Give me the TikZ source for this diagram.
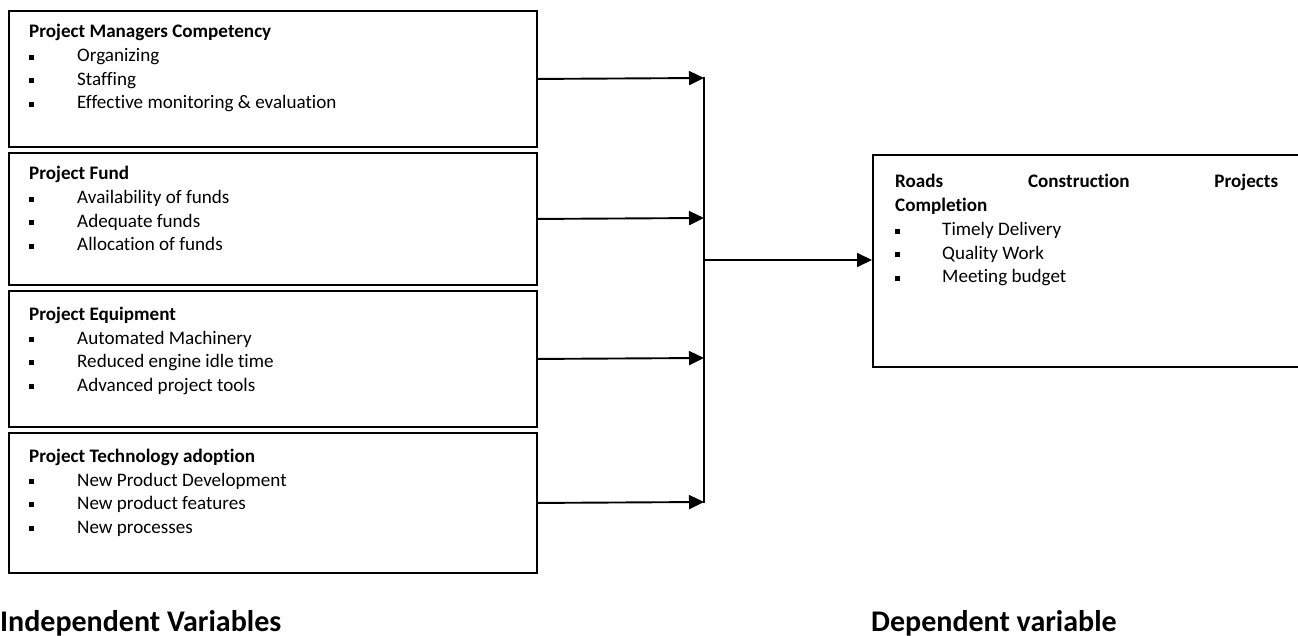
\documentclass[tikz,border=0pt]{standalone}
\usepackage{fontspec}
\setmainfont{Carlito}[Ligatures=NoCommon]
\usetikzlibrary{arrows.meta}
\newcommand{\bul}{\raisebox{2.2pt}{\rule{5.2pt}{5.2pt}}}
\begin{document}
\begin{tikzpicture}[x=1pt,y=-1pt,
  box/.style={draw=black,line width=1.9pt,anchor=north west,inner sep=0pt,rectangle},
  txt/.style={anchor=base west,inner sep=0pt,font=\fontsize{19.1}{23.5}\selectfont},
  ttl/.style={txt,font=\fontsize{19.1}{23.5}\selectfont\bfseries},
  lbl/.style={anchor=base west,inner sep=0pt,font=\fontsize{30}{34}\selectfont\bfseries},
  arr/.style={line width=1.9pt,-{Triangle[length=15pt,width=14pt]}},
  ln/.style={line width=1.9pt}]
\useasboundingbox (0,0) rectangle (1298,636);
% boxes
\node[box,minimum width=528pt,minimum height=136pt] (b1) at (8,10) {};
\node[box,minimum width=528pt,minimum height=132pt] (b2) at (8,152) {};
\node[box,minimum width=528pt,minimum height=136pt] (b3) at (8,290) {};
\node[box,minimum width=528pt,minimum height=140pt] (b4) at (8,432) {};
\node[box,minimum width=440pt,minimum height=212pt] (r) at (872,154) {};
% box 1
\node[ttl] (t1) at (29,38) {Project Managers Competency};
\node[txt] (i11) at (29,62) {\bul};
\node[txt] (i11t) at (77,62) {Organizing};
\node[txt] (i12) at (29,85.5) {\bul};
\node[txt] (i12t) at (77,85.5) {Staffing};
\node[txt] (i13) at (29,109) {\bul};
\node[txt] (i13t) at (77,109) {Effective monitoring \& evaluation};
% box 2
\node[ttl] (t2) at (29,180) {Project Fund};
\node[txt] (i21) at (29,204) {\bul};
\node[txt] (i21t) at (77,204) {Availability of funds};
\node[txt] (i22) at (29,227.5) {\bul};
\node[txt] (i22t) at (77,227.5) {Adequate funds};
\node[txt] (i23) at (29,251) {\bul};
\node[txt] (i23t) at (77,251) {Allocation of funds};
% box 3
\node[ttl] (t3) at (29,320) {Project Equipment};
\node[txt] (i31) at (29,344) {\bul};
\node[txt] (i31t) at (77,344) {Automated Machinery};
\node[txt] (i32) at (29,367.5) {\bul};
\node[txt] (i32t) at (77,367.5) {Reduced engine idle time};
\node[txt] (i33) at (29,391) {\bul};
\node[txt] (i33t) at (77,391) {Advanced project tools};
% box 4
\node[ttl] (t4) at (29,462) {Project Technology adoption};
\node[txt] (i41) at (29,486) {\bul};
\node[txt] (i41t) at (77,486) {New Product Development};
\node[txt] (i42) at (29,509.5) {\bul};
\node[txt] (i42t) at (77,509.5) {New product features};
\node[txt] (i43) at (29,533) {\bul};
\node[txt] (i43t) at (77,533) {New processes};
% right box
\node[ttl] (rt1) at (895,188) {\makebox[383pt][l]{Roads\hfill Construction\hfill Projects}};
\node[ttl] (rt2) at (895,212) {Completion};
\node[txt] (ri1) at (895,236) {\bul};
\node[txt] (ri1t) at (942,236) {Timely Delivery};
\node[txt] (ri2) at (895,259.5) {\bul};
\node[txt] (ri2t) at (942,259.5) {Quality Work};
\node[txt] (ri3) at (895,283) {\bul};
\node[txt] (ri3t) at (942,283) {Meeting budget};
% labels
\node[lbl] (l1) at (0,631) {Independent Variables};
\node[lbl] (l2) at (871,631) {Dependent variable};
% connectors
\coordinate (j1) at (704,78);
\coordinate (j2) at (704,218);
\coordinate (j3) at (704,358);
\coordinate (j4) at (704,502);
\coordinate (m) at (704,260);
\draw[arr] (b1.east) -- (j1);
\draw[arr] (b2.east) -- (j2);
\draw[arr] (b3.east) -- (j3);
\draw[arr] (b4.east) -- (j4);
\draw[ln] ([yshift=0.95pt]j1) -- ([yshift=-0.95pt]j4);
\draw[arr] (m) -- (m -| r.west);
\end{tikzpicture}
\end{document}
